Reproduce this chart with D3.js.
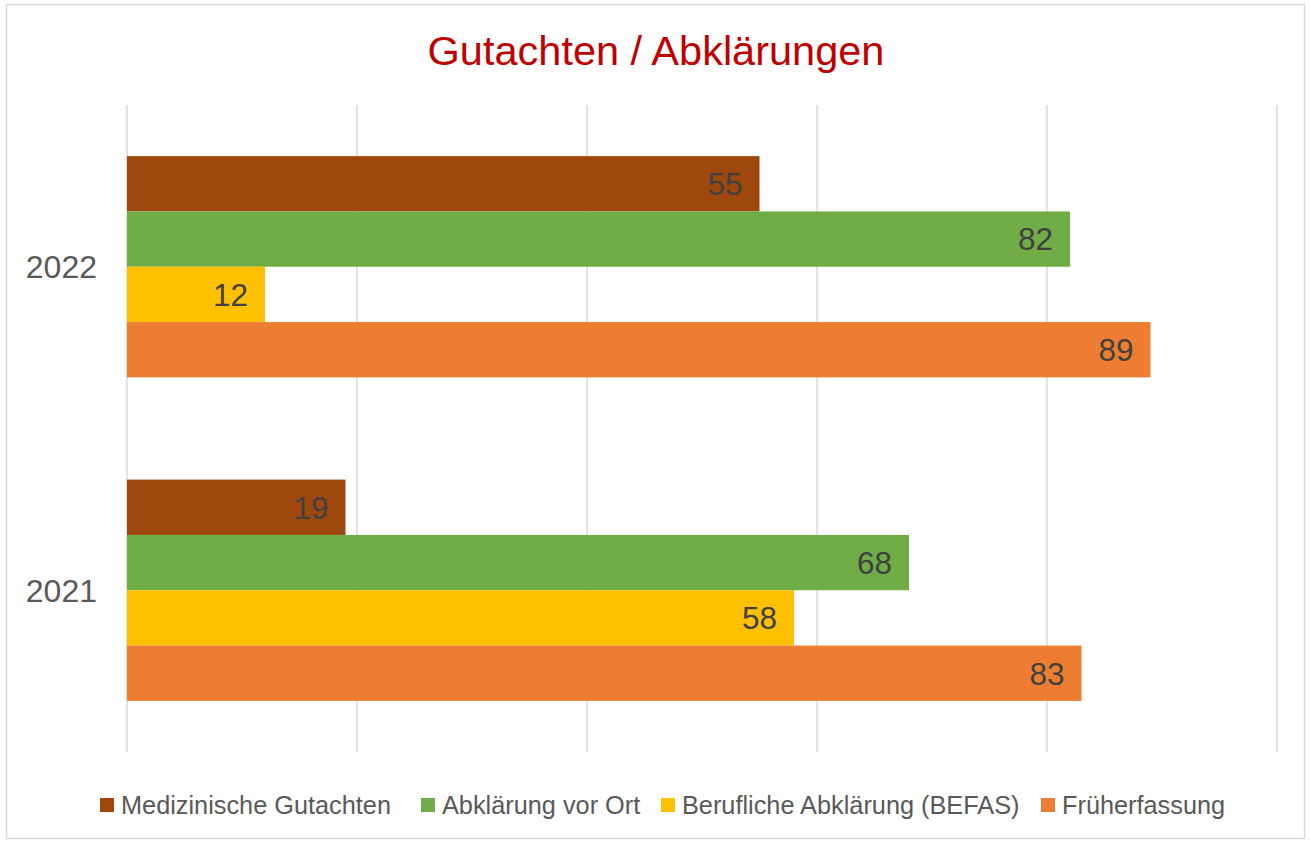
<!DOCTYPE html>
<html><head><meta charset="utf-8">
<script src="https://cdn.jsdelivr.net/npm/d3@7"></script>
<style>
body{margin:0;background:#fff;}
svg{display:block;}
</style></head>
<body>
<svg id="chart" width="1311" height="843"></svg>
<script>
const categories = ["2022", "2021"];
const seriesNames = ["Medizinische Gutachten", "Abklärung vor Ort", "Berufliche Abklärung (BEFAS)", "Früherfassung"];
const seriesColors = ["#9E480E", "#70AD47", "#FFC000", "#ED7D31"];
const values2022 = [55, 82, 12, 89];
const values2021 = [19, 68, 58, 83];
const xTicks = [0, 20, 40, 60, 80, 100];
const valuesByCat = {"2022": values2022, "2021": values2021};

const FONT = "'Liberation Sans',Arial,sans-serif";
const svg = d3.select("#chart");

svg.append("rect").attr("x",6.5).attr("y",4.5).attr("width",1298).attr("height",834)
  .attr("fill","#fff").attr("stroke","#D9D9D9").attr("stroke-width",1.5);

const plot = {left:127, right:1277, top:105, bottom:752};
const x = d3.scaleLinear().domain([0,100]).range([plot.left, plot.right]);
const y0 = d3.scaleBand().domain(categories).range([plot.top, plot.bottom]).paddingInner(0).paddingOuter(0);
const bandH = y0.bandwidth();
const groupH = bandH * 0.684;
const y1 = d3.scaleBand().domain(seriesNames).range([(bandH-groupH)/2, (bandH+groupH)/2]);

// gridlines
svg.append("g").selectAll("line").data(xTicks).join("line")
  .attr("x1",d=>x(d)).attr("x2",d=>x(d)).attr("y1",plot.top).attr("y2",plot.bottom)
  .attr("stroke","#D9D9D9").attr("stroke-width",1.5);

// title
svg.append("text").attr("x",656).attr("y",65).attr("text-anchor","middle")
  .attr("font-family",FONT).attr("font-size",41.5).attr("fill","#C00000").text("Gutachten / Abklärungen");

// bars
const groups = svg.append("g").selectAll("g").data(categories).join("g")
  .attr("transform",d=>`translate(0,${y0(d)})`);
groups.selectAll("rect").data(c=>valuesByCat[c].map((v,i)=>({v, s:seriesNames[i], i})))
  .join("rect")
  .attr("x",x(0)).attr("y",d=>y1(d.s)).attr("height",y1.bandwidth())
  .attr("width",d=>x(d.v)-x(0)).attr("fill",d=>seriesColors[d.i]);
groups.selectAll("text.lbl").data(c=>valuesByCat[c].map((v,i)=>({v, s:seriesNames[i], i})))
  .join("text").attr("class","lbl")
  .attr("x",d=>x(d.v)-17).attr("y",d=>y1(d.s)+y1.bandwidth()/2)
  .attr("dy","0.36em").attr("text-anchor","end")
  .attr("font-family",FONT).attr("font-size",31.5).attr("fill","#404040").text(d=>d.v);

// y axis labels
svg.append("g").selectAll("text").data(categories).join("text")
  .attr("x",97).attr("y",d=>y0(d)+bandH/2).attr("dy","0.36em").attr("text-anchor","end")
  .attr("font-family",FONT).attr("font-size",32).attr("fill","#595959").text(d=>d);

// legend
const legendX = [100, 421, 661, 1041];
const lg = svg.append("g").selectAll("g").data(seriesNames).join("g")
  .attr("transform",(d,i)=>`translate(${legendX[i]},805)`);
lg.append("rect").attr("x",0).attr("y",-7).attr("width",14).attr("height",14)
  .attr("fill",(d,i)=>seriesColors[i]);
lg.append("text").attr("x",21).attr("y",0).attr("dy","0.36em")
  .attr("font-family",FONT).attr("font-size",25.3).attr("fill","#595959").text(d=>d);
</script>
</body></html>
